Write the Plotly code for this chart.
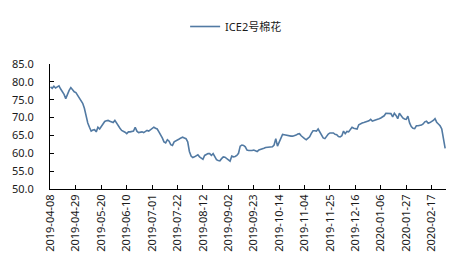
import plotly.graph_objects as go
import pandas as pd

series_name = "ICE2号棉花"
start_date = "2019-04-08"

values = [
    78.6, 78.2, 78.8, 78.3, 78.6, 78.9, 78.0, 77.3, 76.5, 75.3,
    76.6, 77.6, 78.4, 77.8, 77.2, 77.0, 76.3, 75.6, 75.0, 74.0,
    72.6, 70.5, 68.5, 67.3, 66.2, 66.5, 66.6, 66.0, 67.3, 66.8,
    67.5, 68.3, 68.9, 69.1, 69.2, 69.0, 68.8, 68.6, 69.2, 68.4,
    67.5, 67.0, 66.4, 66.2, 65.9, 65.5, 66.0, 66.0, 66.1, 66.2,
    67.3, 66.2, 65.8, 65.9, 66.0, 65.8, 66.2, 66.4, 66.2, 66.5,
    66.8, 67.3, 67.0, 66.8, 66.0, 65.3,
    64.3, 63.2, 62.9, 63.8, 63.4, 62.4, 62.2, 63.2, 63.4, 63.6,
    64.0, 64.3, 64.5, 64.3, 64.1, 63.2, 60.5, 59.2, 58.8, 59.0,
    59.3, 59.6, 59.0, 58.6, 58.3, 59.4, 59.7, 59.9, 59.9, 59.4,
    59.9, 58.9, 58.2, 58.0, 57.9, 58.5, 59.0, 58.9, 58.6, 58.1,
    57.8, 59.2, 59.0, 59.1, 59.4, 60.0, 62.0, 62.3, 62.2, 61.8,
    60.9, 60.8, 60.7, 60.8, 60.9, 60.7, 60.5, 60.9, 61.0, 61.2,
    61.4, 61.6, 61.6, 61.6, 61.7, 61.8, 62.3, 64.1, 62.0, 63.2,
    64.5, 65.3, 65.2, 65.1, 64.8, 64.7, 64.8, 64.8, 64.9, 65.1,
    65.4, 65.5, 64.9, 64.4, 64.1, 63.8, 64.1, 64.6,
    65.6, 66.3, 66.3, 66.2, 66.8, 65.9, 65.0, 64.3, 64.1, 64.8,
    65.4, 65.7, 65.8, 65.7, 65.3, 65.2, 64.7, 64.6, 64.9, 66.2,
    65.5, 66.1, 66.0, 66.6, 67.3, 67.0, 66.9, 66.8, 68.0, 68.3,
    68.5, 68.6, 68.7, 68.8, 69.1, 69.5, 69.0, 69.2, 69.3, 69.5,
    69.7, 69.9, 70.1, 70.5, 71.2, 71.2, 71.2, 71.1, 70.2, 71.2,
    70.6, 69.7, 71.2, 70.4, 69.9, 69.6, 69.5, 70.4, 68.5, 67.5,
    67.0, 66.9, 67.7, 67.7, 67.7, 67.9, 68.2, 68.8, 69.0, 68.4,
    68.6, 68.8, 69.2, 69.7, 68.7, 68.2, 67.7, 66.8, 64.0, 61.4,
]

dates = [d.strftime("%Y-%m-%d") for d in pd.bdate_range(start=start_date, periods=len(values))]
tick_labels = dates[::15]

y_ticks = [50, 55, 60, 65, 70, 75, 80, 85]

fig = go.Figure()
fig.add_trace(go.Scatter(
    x=dates, y=values, mode="lines", name=series_name,
    line=dict(color="#527AA3", width=1.6),
))

font_family = "Noto Sans, Noto Sans CJK SC, sans-serif"

fig.update_layout(
    width=466, height=264,
    margin=dict(l=48, r=20, t=58, b=74),
    paper_bgcolor="white", plot_bgcolor="white",
    font=dict(family=font_family, size=11, color="#1a1a1a"),
    showlegend=True,
    legend=dict(orientation="h", x=0.47, xanchor="center", y=1.3, yanchor="middle",
                font=dict(size=11, color="#1a1a1a"), bgcolor="rgba(0,0,0,0)"),
    xaxis=dict(
        type="category", range=[-0.3, len(values) - 0.5],
        tickmode="array", tickvals=tick_labels, ticktext=tick_labels,
        tickangle=-90, showgrid=False, showline=True, linecolor="black", linewidth=1,
        ticks="inside", ticklen=4, tickcolor="black", zeroline=False,
        tickfont=dict(size=11),
    ),
    yaxis=dict(
        range=[50, 85], tickvals=y_ticks, tickformat=".1f",
        showgrid=False, showline=True, linecolor="black", linewidth=1,
        ticks="inside", ticklen=4, tickcolor="black", zeroline=False,
        ticklabelstandoff=13, tickfont=dict(size=11),
    ),
)

fig.write_html("out.html")
